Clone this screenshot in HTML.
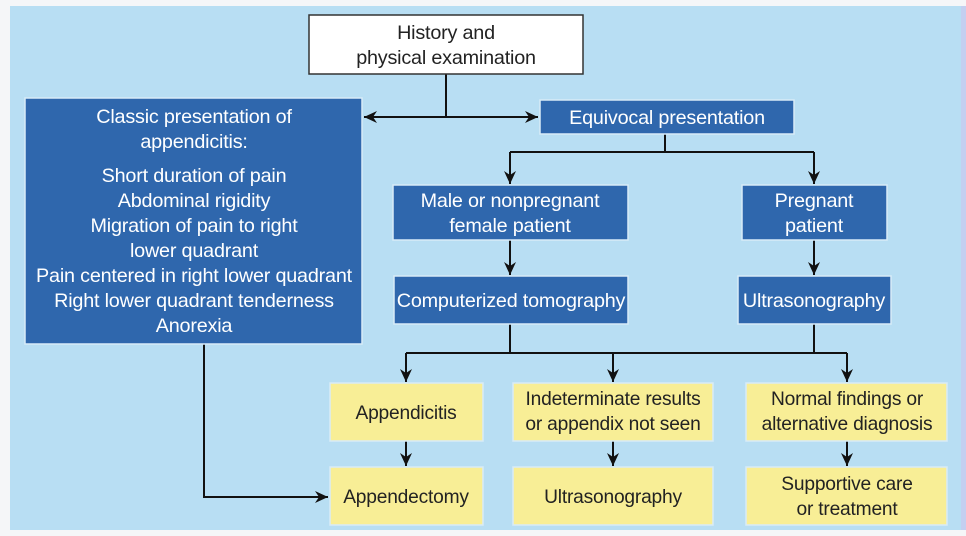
<!DOCTYPE html>
<html><head><style>
body{margin:0;width:966px;height:536px;overflow:hidden;background:#f4f6f8}
svg{display:block}
text{font-family:"Liberation Sans",Arial,sans-serif;font-size:19.8px;text-anchor:middle;letter-spacing:-0.2px}
.w{fill:#fff}.k{fill:#222;font-size:19.2px}
</style></head><body>
<svg width="966" height="536" viewBox="0 0 966 536">
<defs><marker id="a" markerWidth="14" markerHeight="14" refX="13" refY="6" orient="auto" markerUnits="userSpaceOnUse"><path d="M0,0 L13,6 L0,12 L4,6 z" fill="#111"/></marker></defs>
<rect x="0" y="0" width="966" height="536" fill="#f5f6f8"/>
<rect x="10" y="6" width="951" height="524" fill="#b8def3"/>
<rect x="961" y="6" width="5" height="524" fill="#c4cff0"/>
<g stroke="#111" stroke-width="2" fill="none">
<path d="M446 74 V117"/>
<path d="M446 117 H364" marker-end="url(#a)"/>
<path d="M446 117 H538" marker-end="url(#a)"/>
<path d="M665 134 V152 M510 152 H814"/>
<path d="M510 152 V184" marker-end="url(#a)"/>
<path d="M814 152 V184" marker-end="url(#a)"/>
<path d="M510 240 V275" marker-end="url(#a)"/>
<path d="M814 240 V275" marker-end="url(#a)"/>
<path d="M510 324 V353 M814 324 V353 M406 353 H847"/>
<path d="M406 353 V382" marker-end="url(#a)"/>
<path d="M613 353 V382" marker-end="url(#a)"/>
<path d="M847 353 V382" marker-end="url(#a)"/>
<path d="M406 441 V466" marker-end="url(#a)"/>
<path d="M613 441 V466" marker-end="url(#a)"/>
<path d="M847 441 V466" marker-end="url(#a)"/>
<path d="M204 344 V497 H328" marker-end="url(#a)"/>
</g>
<rect x="309" y="15" width="274" height="59" fill="#fff" stroke="#333" stroke-width="1.5"/>
<text x="446" y="39" class="k" style="font-size:19.8px">History and</text>
<text x="446" y="64" class="k" style="font-size:19.8px">physical examination</text>
<g fill="#2f67ad" stroke="#d8ecf8" stroke-width="1.5">
<rect x="25" y="98" width="337" height="246"/>
<rect x="540" y="100" width="254" height="34"/>
<rect x="393" y="185" width="235" height="55"/>
<rect x="742" y="185" width="145" height="55"/>
<rect x="394" y="276" width="234" height="48"/>
<rect x="738" y="276" width="153" height="48"/>
</g>
<text x="194" y="123" class="w">Classic presentation of</text>
<text x="194" y="148" class="w">appendicitis:</text>
<text x="194" y="182" class="w">Short duration of pain</text>
<text x="194" y="207" class="w">Abdominal rigidity</text>
<text x="194" y="232" class="w">Migration of pain to right</text>
<text x="194" y="257" class="w">lower quadrant</text>
<text x="194" y="282" class="w">Pain centered in right lower quadrant</text>
<text x="194" y="307" class="w">Right lower quadrant tenderness</text>
<text x="194" y="332" class="w">Anorexia</text>
<text x="667" y="124" class="w">Equivocal presentation</text>
<text x="510" y="207" class="w">Male or nonpregnant</text>
<text x="510" y="232" class="w">female patient</text>
<text x="814" y="207" class="w">Pregnant</text>
<text x="814" y="232" class="w">patient</text>
<text x="511" y="307" class="w">Computerized tomography</text>
<text x="814" y="307" class="w">Ultrasonography</text>
<g fill="#f8ee96" stroke="#d8ecf8" stroke-width="1.5">
<rect x="330" y="383" width="153" height="58"/>
<rect x="513" y="383" width="200" height="58"/>
<rect x="746" y="383" width="201" height="58"/>
<rect x="330" y="467" width="153" height="58"/>
<rect x="513" y="467" width="200" height="58"/>
<rect x="746" y="467" width="201" height="58"/>
</g>
<text x="406" y="419" class="k">Appendicitis</text>
<text x="613" y="405" class="k">Indeterminate results</text>
<text x="613" y="430" class="k">or appendix not seen</text>
<text x="847" y="405" class="k">Normal findings or</text>
<text x="847" y="430" class="k">alternative diagnosis</text>
<text x="406" y="503" class="k">Appendectomy</text>
<text x="613" y="503" class="k">Ultrasonography</text>
<text x="847" y="490" class="k">Supportive care</text>
<text x="847" y="515" class="k">or treatment</text>
</svg>
</body></html>
